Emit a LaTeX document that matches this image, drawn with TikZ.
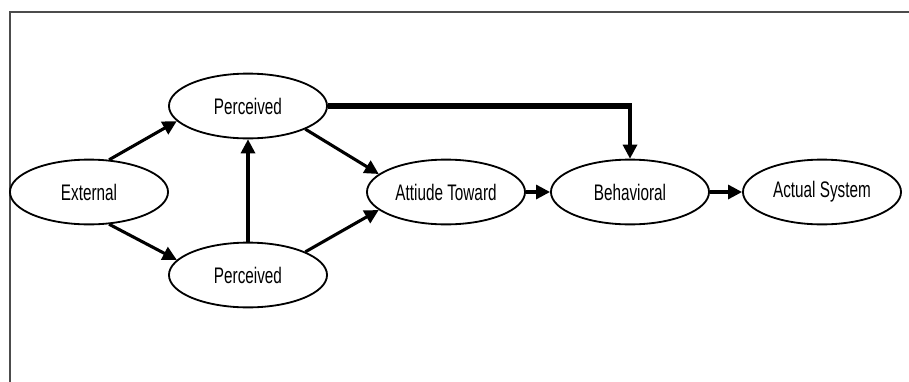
\documentclass[tikz,border=0pt]{standalone}
\usepackage{fontspec}
\setmainfont[FakeStretch=0.68]{Liberation Sans}
\usetikzlibrary{shapes.geometric,arrows.meta}

\begin{document}
\begin{tikzpicture}[x=0.025cm,y=-0.025cm,
  construct/.style={draw,ellipse,line width=1.3pt,minimum width=3.95cm,minimum height=1.62cm,inner sep=0pt,font=\fontsize{16}{18}\selectfont},
  link/.style={line width=2.2pt,-{Triangle[length=10pt,width=10pt]}}]
  \useasboundingbox (0,0) rectangle (909,382);

  % Marco
  \draw[gray!60!black,line width=2pt] (10,382) -- (10,12) -- (909,12);

  % Constructos
  \node[construct] (ext) at (89,192) {External};
  \node[construct] (pu) at (248,106) {Perceived};
  \node[construct] (peou) at (248,275) {Perceived};
  \node[construct] (att) at (446,192) {Attiude Toward};
  \node[construct] (bi) at (630,192) {Behavioral};
  \node[construct] (use) at (822,192) {Actual System};

  % Flechas
  \draw[link] (ext.58) -- (pu.192);
  \draw[link] (ext.-58) -- (peou.168);
  \draw[link] (peou.north) -- (pu.south);
  \draw[link] (pu.-22) -- (att.165);
  \draw[link] (peou.22) -- (att.195);
  \draw[link] (att.east) -- (bi.west);
  \draw[link] (bi.east) -- (use.west);

  % Perceived -> Behavioral
  \coordinate (knee) at (pu.east -| bi.north);
  \draw[line width=3.8pt] (pu.east) -- ([xshift=1.1pt]knee);
  \draw[link] ([yshift=1.9pt]knee) -- (bi.north);
\end{tikzpicture}
\end{document}
